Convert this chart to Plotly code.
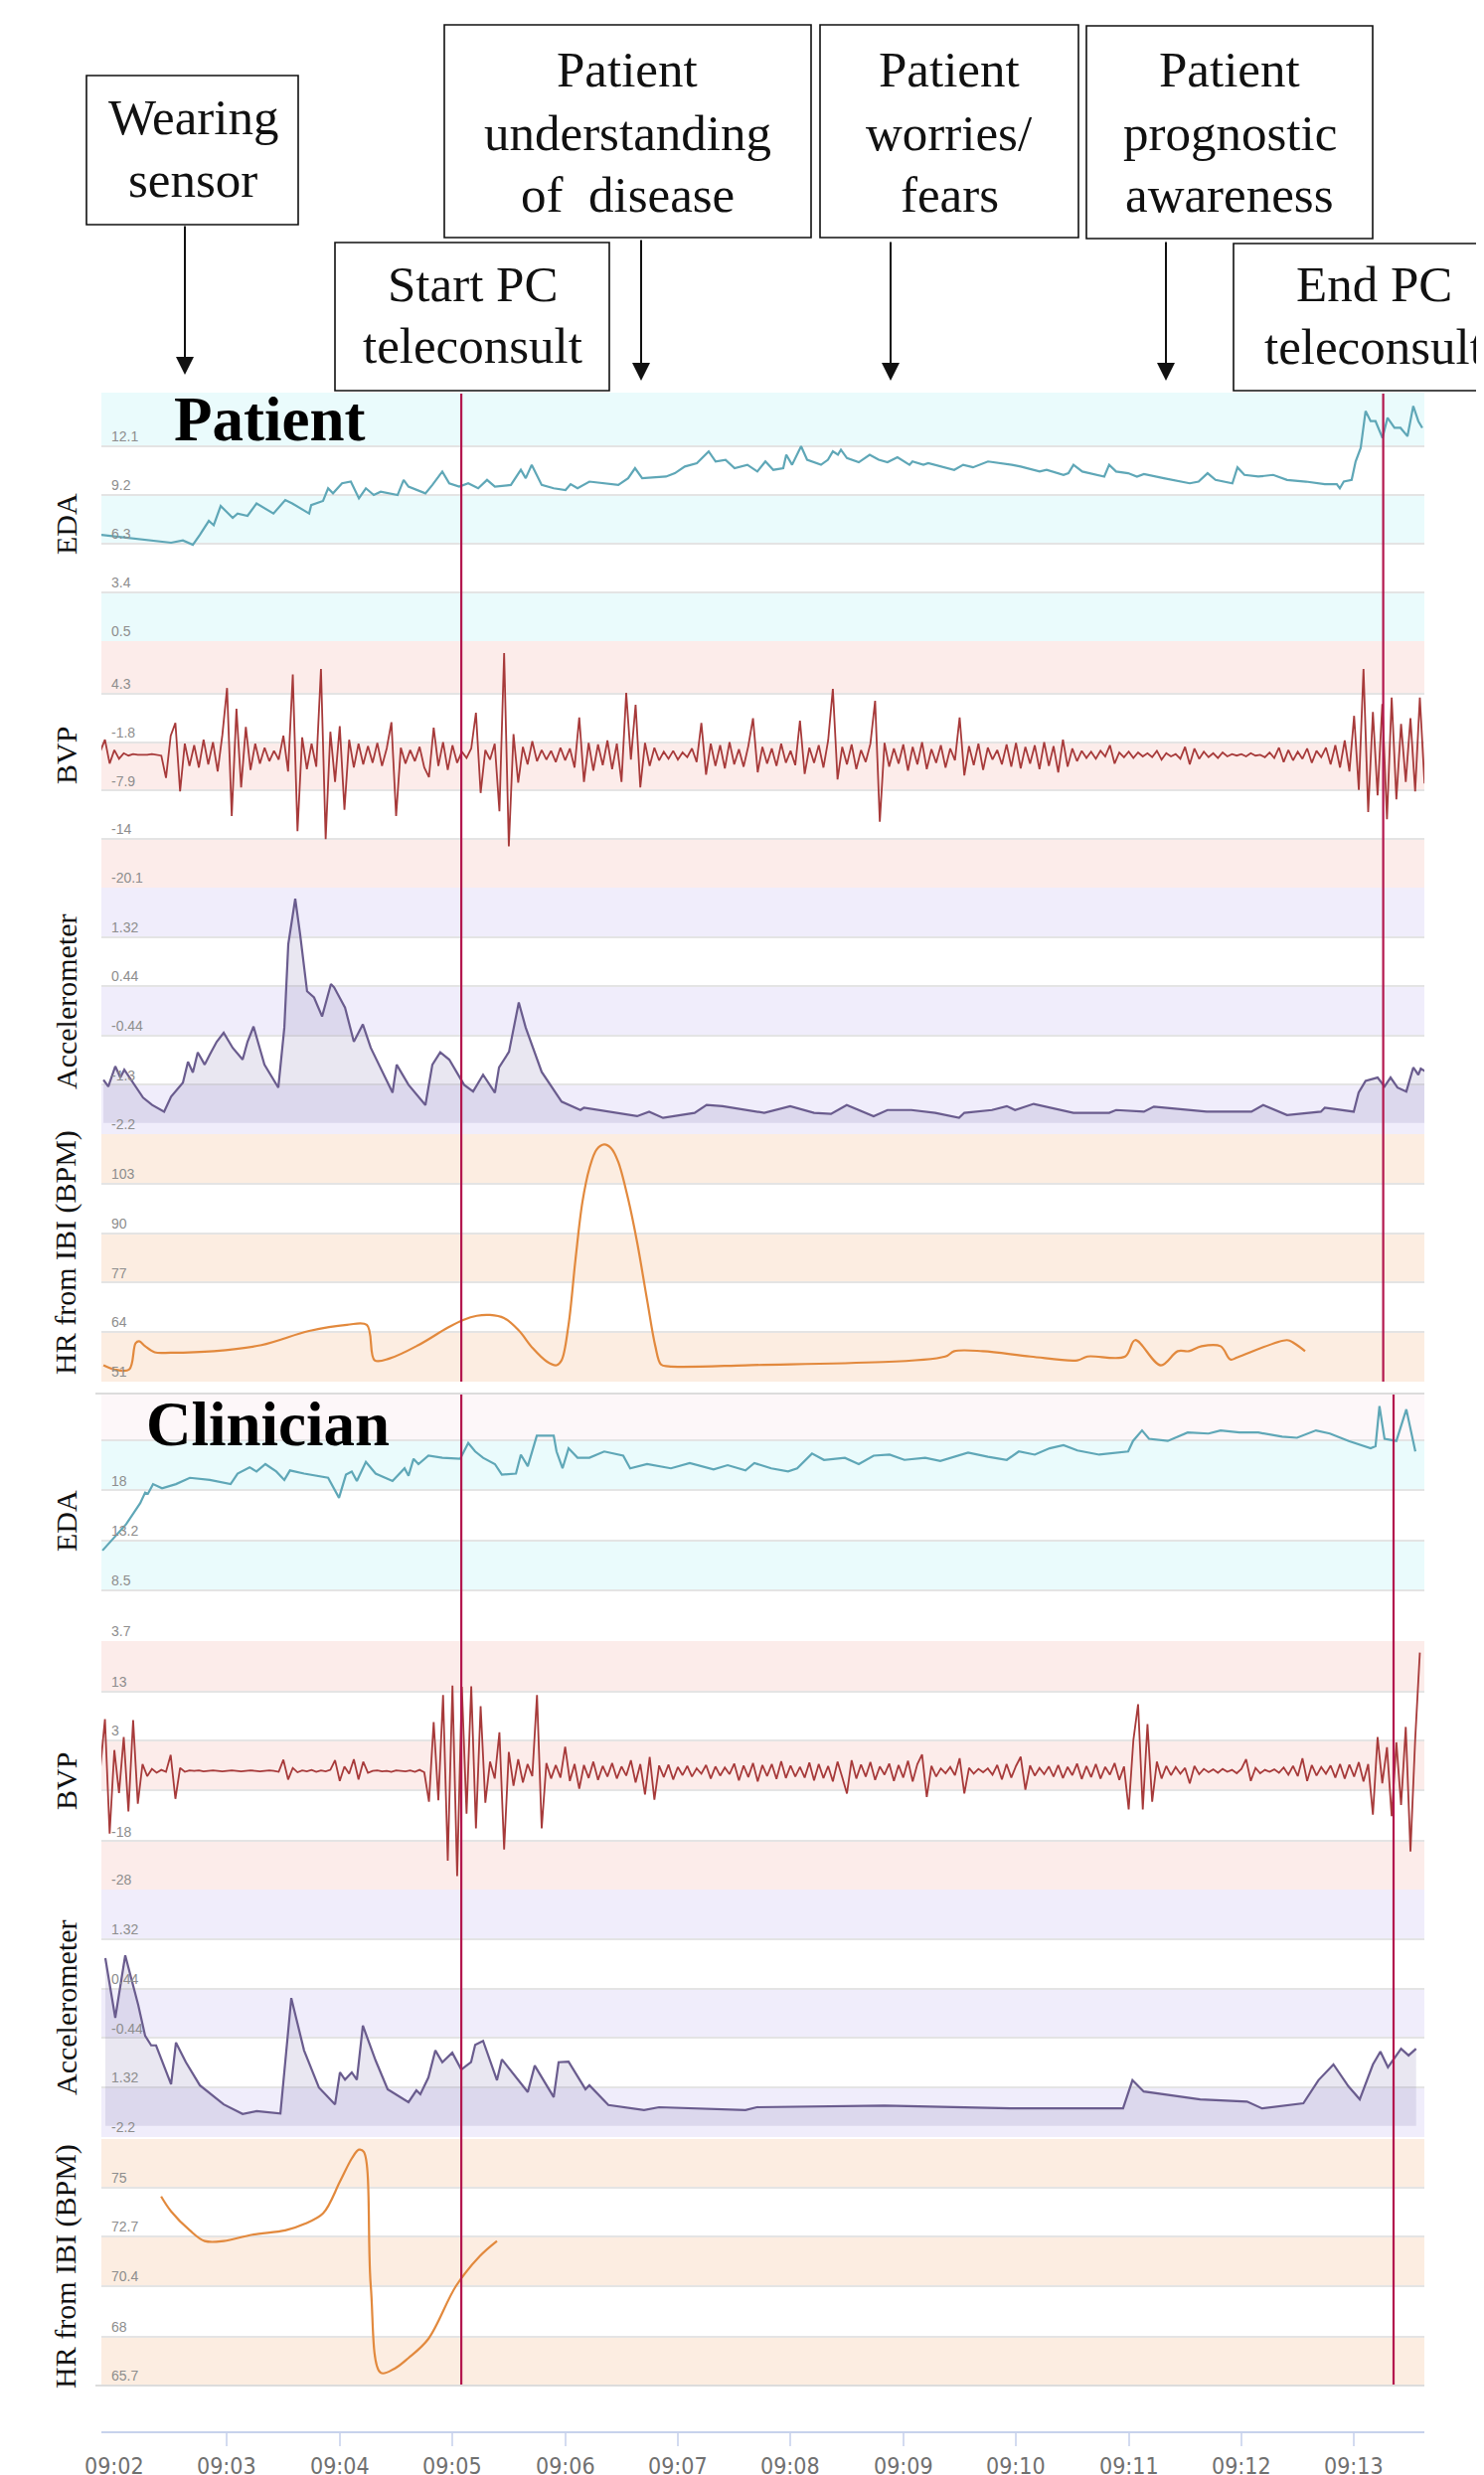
import plotly.graph_objects as go

# ---------------------------------------------------------------- data ----
# time is in seconds after 09:02:00
X_TICK_SECONDS = [0, 60, 120, 180, 240, 300, 360, 420, 480, 540, 600, 660]
X_TICK_LABELS = ["09:02", "09:03", "09:04", "09:05", "09:06", "09:07",
                 "09:08", "09:09", "09:10", "09:11", "09:12", "09:13"]
X_RANGE = [-6.9, 697.4]

START_PC_S = 184.7
END_PC_PATIENT_S = 675.5
END_PC_CLINICIAN_S = 681.0

# --- Patient EDA
PAT_EDA_T = [-6.9, 15.3, 30.2, 36.5, 41.8, 45.5, 50.3, 52.9, 56.6, 63.0, 65.6, 70.9, 75.7, 84.7, 91.0, 94.7,
             103.7, 104.8, 111.1, 113.8, 116.4, 121.2, 125.9, 130.2, 133.9, 138.1, 141.8, 150.8, 154.0, 156.6,
             165.6, 169.3, 174.6, 178.3, 183.6, 188.4, 193.7, 198.4, 202.6, 211.1, 216.4, 219.0, 222.2, 227.5,
             233.9, 240.2, 242.9, 246.6, 252.9, 268.3, 273.5, 277.2, 281.0, 293.7, 298.4, 303.7, 310.1, 316.4,
             320.1, 325.4, 330.2, 337.0, 342.3, 346.6, 350.8, 356.1, 357.7, 360.8, 365.6, 368.8, 376.2, 379.9,
             382.5, 385.2, 386.8, 390.0, 396.3, 402.1, 406.9, 411.6, 416.9, 423.3, 424.9, 430.7, 433.3, 447.1,
             451.9, 457.1, 460.8, 465.1, 477.8, 482.5, 492.6, 496.3, 505.3, 507.9, 510.6, 515.3, 527.0, 529.6,
             533.3, 539.7, 544.4, 548.1, 558.7, 572.5, 577.2, 582.0, 586.2, 595.2, 597.9, 601.6, 609.0, 616.9,
             624.3, 634.4, 644.4, 650.8, 652.4, 654.5, 658.7, 660.8, 663.5, 666.1, 668.8, 671.4, 675.1, 677.8,
             681.5, 684.7, 688.4, 691.5, 694.2, 696.3]
PAT_EDA_V = [6.83, 6.54, 6.36, 6.5, 6.24, 6.83, 7.66, 7.4, 8.55, 7.84, 8.1, 7.96, 8.7, 8.1, 8.9, 8.7,
             8.1, 8.6, 8.85, 9.6, 9.3, 9.9, 10.0, 9.0, 9.6, 9.2, 9.4, 9.2, 10.1, 9.7,
             9.3, 9.8, 10.6, 9.9, 9.7, 9.9, 9.6, 10.1, 9.7, 9.8, 10.7, 10.2, 11.0, 9.8,
             9.6, 9.5, 9.85, 9.6, 10.0, 9.8, 10.2, 10.8, 10.2, 10.3, 10.5, 10.9, 11.1, 11.8,
             11.2, 11.3, 10.8, 11.0, 10.6, 11.2, 10.7, 10.8, 11.6, 11.0, 12.1, 11.3, 11.0, 11.3,
             11.8, 11.6, 11.9, 11.4, 11.15, 11.6, 11.3, 11.15, 11.45, 11.0, 11.2, 11.0, 11.1, 10.7,
             11.0, 10.85, 11.0, 11.2, 11.0, 10.9, 10.6, 10.7, 10.4, 10.5, 11.0, 10.6, 10.3, 11.0,
             10.6, 10.5, 10.3, 10.45, 10.2, 9.9, 10.0, 10.5, 10.1, 9.9, 10.85, 10.4, 10.3, 10.4,
             10.1, 10.0, 9.85, 9.85, 9.6, 10.0, 10.1, 11.2, 12.0, 14.2, 13.6, 13.6, 12.6, 13.8,
             13.2, 13.2, 12.7, 14.5, 13.6, 13.2]

# --- BVP (uniformly sampled, one value every BVP_DT seconds from BVP_T0)
BVP_T0 = -7.5
BVP_DT = 2.5
PAT_BVP_V = [
    -3.0, -1.5, -4.5, -2.8, -3.9, -3.2, -3.5, -3.3, -3.4, -3.4,
    -3.4, -3.3, -3.4, -3.5, -6.3, -1.0, 0.6, -8.0, -2.0, -4.8,
    -2.2, -5.0, -1.5, -4.6, -1.8, -5.5, -0.9, 5.0, -11.1, 2.4,
    -7.5, 0.1, -5.3, -2.0, -4.5, -2.5, -4.2, -2.9, -4.0, -1.0,
    -5.5, 6.7, -13.0, -1.2, -5.2, -2.0, -4.9, 7.4, -14.0, -0.5,
    -6.8, 0.2, -10.3, -1.5, -5.0, -2.0, -4.6, -2.3, -4.4, -1.9,
    -4.8, -2.6, 0.7, -11.1, -2.5, -4.5, -2.8, -4.2, -2.4, -5.0,
    -6.2, 0.0, -4.8, -1.8, -5.3, -2.2, -4.4, -3.0, -3.8, -2.6,
    1.9, -8.2, -2.8, -4.0, -2.0, -10.5, 9.4, -14.9, -0.8, -6.9,
    -2.4, -4.6, -1.7, -4.2, -2.8, -4.0, -2.9, -4.3, -2.5, -4.1,
    -2.6, -5.0, 1.3, -6.8, -1.9, -5.4, -2.1, -4.7, -1.6, -5.2,
    -2.0, -6.8, 4.4, -4.0, 2.9, -7.5, -1.9, -4.8, -2.5, -4.1,
    -3.0, -3.9, -2.9, -4.0, -3.1, -3.7, -2.6, -4.3, 0.6, -5.9,
    -2.0, -4.8, -2.2, -5.1, -1.8, -4.6, -2.7, -4.9, -2.3, 1.2,
    -5.6, -2.4, -4.5, -2.6, -4.8, -2.0, -4.4, -2.9, -4.7, 0.9,
    -5.8, -2.5, -4.4, -2.2, -5.0, -1.6, 4.9, -6.5, -2.4, -4.6,
    -2.1, -5.2, -2.8, -4.3, -2.0, 3.4, -11.8, -1.9, -4.9, -2.6,
    -4.5, -2.1, -5.4, -2.4, -4.6, -1.8, -5.2, -2.7, -4.4, -2.2,
    -5.0, -2.6, -4.1, 1.3, -6.0, -2.3, -4.7, -2.0, -5.3, -2.5,
    -4.0, -2.8, -4.6, -2.1, -4.9, -1.9, -5.1, -2.4, -4.5, -2.2,
    -5.2, -1.8, -4.8, -2.3, -5.6, -1.5, -4.9, -2.6, -4.2, -2.9,
    -3.8, -3.0, -3.9, -2.9, -3.6, -2.2, -4.5, -3.1, -3.7, -3.0,
    -3.8, -3.1, -3.6, -3.2, -3.7, -2.9, -4.0, -3.2, -3.6, -3.3,
    -3.9, -2.4, -4.6, -2.6, -3.9, -3.0, -3.7, -3.2, -3.8, -3.1,
    -3.6, -3.3, -3.5, -3.3, -3.6, -3.2, -3.5, -3.4, -3.7, -3.1,
    -3.8, -2.5, -4.3, -2.8, -4.1, -3.0, -3.9, -2.6, -4.4, -2.9,
    -3.7, -2.5, -4.6, -2.2, -5.0, -1.6, -5.5, 1.5, -7.8, 7.4,
    -10.6, 2.0, -8.5, 3.0, -11.5, 3.8, -9.0, 0.5, -6.8, 1.2, -8.0, 3.8, -7.0]

CLI_BVP_V = [
    -3.0, 7.3, -16.4, 0.9, -8.0, 3.6, -11.8, 7.1, -10.2, -2.0,
    -4.5, -3.0, -3.8, -3.2, -3.6, -0.1, -9.2, -2.8, -3.6, -3.3,
    -3.4, -3.3, -3.5, -3.4, -3.3, -3.4, -3.5, -3.4, -3.3, -3.4,
    -3.5, -3.4, -3.3, -3.4, -3.5, -3.4, -3.3, -3.4, -3.6, -1.1,
    -5.2, -2.8, -3.7, -3.3, -3.5, -3.2, -3.6, -3.3, -3.5, -3.2,
    -1.2, -5.5, -2.5, -4.0, -1.0, -5.2, -1.5, -3.8, -3.4, -3.3,
    -3.5, -3.4, -3.6, -3.3, -3.4, -3.5, -3.3, -3.6, -3.2, -3.7,
    -9.8, 6.7, -9.5, 12.3, -22.0, 14.3, -25.2, 14.0, -12.3, 14.1,
    -15.3, 10.0, -10.0, -1.5, -5.0, 4.6, -19.7, 0.5, -6.5, -1.0,
    -5.8, -2.0, -4.5, 12.3, -15.3, -1.8, -5.0, -2.2, -4.8, 1.6,
    -5.5, -2.0, -7.1, -2.2, -4.9, -1.5, -5.3, -2.4, -4.6, -1.8,
    -5.0, -2.5, -4.4, -1.2, -5.8, -2.0, -8.3, -0.5, -9.4, -2.3,
    -4.7, -2.1, -5.2, -2.6, -4.3, -2.4, -4.6, -2.9, -4.0, -2.2,
    -5.0, -2.5, -4.4, -2.7, -4.1, -1.9, -5.4, -2.3, -4.7, -1.8,
    -5.6, -2.2, -4.5, -2.0, -5.1, -1.4, -4.9, -2.3, -4.6, -2.6,
    -4.8, -1.7, -5.4, -2.0, -4.9, -2.4, -5.6, -1.5, -4.7, -8.1,
    -1.2, -5.0, -2.1, -4.6, -1.6, -5.3, -2.5, -4.2, -1.9, -5.5,
    -2.2, -4.8, -1.3, -5.6, -2.0, 0.0, -8.8, -2.4, -4.6, -2.9,
    -3.9, -2.6, -4.3, -0.8, -8.1, -2.8, -4.0, -3.0, -3.7, -2.9,
    -4.2, -2.2, -5.2, -2.0, -4.8, -2.4, -0.5, -7.3, -2.3, -4.4,
    -2.8, -4.1, -2.5, -4.6, -2.2, -4.9, -2.6, -4.3, -1.9, -5.1,
    -2.4, -4.7, -2.0, -5.0, -2.6, -4.2, -1.8, -5.3, -2.5, -11.4,
    3.0, 10.4, -11.4, 6.3, -9.8, -1.5, -5.0, -2.4, -4.3, -2.6,
    -4.0, -2.8, -6.0, -2.4, -4.1, -3.0, -3.7, -3.1, -3.8, -3.0,
    -3.6, -3.2, -3.9, -3.0, -1.0, -5.5, -2.8, -3.9, -3.2, -3.6,
    -3.1, -3.8, -2.7, -4.2, -2.4, -4.5, -0.8, -5.5, -2.2, -4.4,
    -2.6, -4.0, -2.3, -4.8, -2.0, -5.0, -2.1, -4.6, -1.6, -5.6,
    -2.0, -12.5, 3.6, -6.0, 1.5, -12.8, 2.5, -10.5, 5.7, -20.1, 3.0, 21.1]

# --- Patient accelerometer
PAT_ACC_T = [-5.8, -3.2, 0.5, 3.2, 5.3, 15.3, 20.1, 26.5, 30.2, 36.5, 39.2, 41.8, 44.4, 48.1, 50.8, 54.5,
             58.2, 63.0, 68.3, 70.9, 74.1, 79.9, 87.3, 90.5, 92.6, 96.3, 98.9, 102.6, 106.3, 110.6, 115.3,
             117.0, 122.8, 127.5, 132.3, 136.5, 148.1, 150.3, 156.6, 165.6, 169.3, 173.5, 178.3, 186.2,
             191.0, 196.3, 202.6, 204.8, 210.1, 215.3, 219.0, 227.5, 238.1, 248.1, 250.0, 263.0, 278.3,
             284.7, 292.1, 308.9, 315.3, 323.8, 337.0, 346.0, 359.8, 372.5, 381.5, 389.9, 404.2, 411.6,
             424.3, 437.0, 449.7, 452.5, 467.2, 475.1, 479.5, 489.4, 510.6, 529.6, 533.3, 548.1, 553.4,
             581.5, 605.3, 611.6, 624.3, 642.3, 644.4, 659.8, 662.4, 666.1, 672.5, 676.2, 679.4, 683.1,
             687.8, 691.5, 694.2, 695.5, 698.9]
PAT_ACC_V = [-1.23, -1.35, -0.99, -1.19, -1.05, -1.55, -1.68, -1.80, -1.53, -1.28, -0.91, -1.10, -0.74, -0.96,
             -0.78, -0.55, -0.39, -0.66, -0.87, -0.55, -0.28, -0.96, -1.37, -0.30, 1.19, 2.0, 1.37, 0.35, 0.24,
             -0.10, 0.48, 0.42, 0.06, -0.55, -0.24, -0.66, -1.46, -0.96, -1.32, -1.68, -0.96, -0.74, -0.87,
             -1.32, -1.44, -1.14, -1.46, -1.01, -0.73, 0.15, -0.30, -1.09, -1.62, -1.77, -1.73, -1.80, -1.88,
             -1.80, -1.91, -1.82, -1.68, -1.70, -1.77, -1.82, -1.70, -1.82, -1.84, -1.68, -1.88, -1.77,
             -1.77, -1.82, -1.91, -1.82, -1.77, -1.70, -1.77, -1.66, -1.82, -1.82, -1.77, -1.80, -1.71,
             -1.80, -1.80, -1.68, -1.86, -1.80, -1.73, -1.80, -1.46, -1.25, -1.19, -1.35, -1.19, -1.37,
             -1.44, -1.01, -1.14, -1.03, -1.10]

# --- Patient heart rate
PAT_HR_T = [-5.8, 0, 7.9, 11.3, 13.2, 16.4, 21.5, 30, 52.9, 78.3, 103.7, 123.8, 134.4, 138.6, 146.6, 161.9,
            177.2, 185.7, 193, 200, 207.4, 215.2, 222.7, 230.2, 235.4, 238.1, 241.7, 245.5, 249.2, 252.9,
            256.8, 260.8, 264.5, 268.2, 273.5, 278.3, 283.6, 288, 291, 295, 336, 442.3, 447.1, 462.4,
            487.8, 512.7, 518, 538.1, 543.4, 557.1, 566.1, 572, 578.8, 588.9, 594.2, 598, 624.3, 628.0, 633.9]
PAT_HR_V = [55.3, 54.2, 54.2, 61.1, 61.6, 60.3, 58.7, 58.6, 59.0, 60.6, 64.3, 65.9, 65.9, 56.6, 57.1, 60.6,
            65.1, 67.2, 68.3, 68.5, 67.7, 64.5, 59.8, 56.3, 55.3, 56.6, 65.6, 83.1, 98.2, 107.0,
            112.0, 113.3, 112.3, 108.8, 99.0, 87.6, 72.5, 60.3, 55.5, 55.0, 55.3, 57.6, 59.0, 59.0,
            57.6, 56.6, 57.6, 57.6, 61.9, 55.3, 59.0, 59.0, 60.3, 60.3, 56.8, 57.4, 61.9, 61.1, 59.0]

# --- Clinician EDA
CLI_EDA_T = [-6.3, 0, 6.3, 13.8, 16.4, 17.9, 20.6, 25.4, 32.8, 40.2, 50.8, 61.9, 65.6, 72.0, 75.7, 80.4,
             86.2, 90.5, 93.5, 101, 113.8, 119.6, 123.3, 126.4, 129.1, 133.9, 139.1, 148.1, 154.5, 156.6,
             159.3, 161.9, 167.2, 174.6, 184.1, 188.4, 192.1, 196.3, 202.6, 206.3, 213.8, 216.4, 220.1,
             224.9, 233.9, 235.4, 238.6, 241.8, 246.6, 252.9, 260.8, 270.9, 274.6, 283.6, 296.3, 306.3,
             319, 326.5, 336, 340.7, 349.7, 358.7, 363.5, 371.4, 377.8, 388.9, 396.3, 404.2, 412.7, 420.6,
             431.7, 439.7, 454.5, 465.1, 475.1, 481.5, 490, 497.9, 505.3, 512.7, 524.3, 539.7, 542.3,
             547.1, 550.8, 560.8, 571.4, 582.5, 588.9, 599, 609, 621.7, 629.6, 639.7, 647.1, 657.1, 668.8,
             671.4, 673.5, 676.2, 682.5, 687.8, 692.6]
CLI_EDA_V = [12.3, 13.5, 14.8, 16.8, 17.8, 17.7, 18.6, 18.2, 18.6, 19.2, 19.0, 18.6, 19.6, 20.2, 19.8, 20.5,
             19.8, 19.0, 19.9, 19.6, 19.2, 17.3, 19.5, 19.8, 18.9, 20.7, 19.6, 18.9, 20.1, 19.4,
             21.0, 20.5, 21.3, 21.1, 21.0, 22.5, 21.7, 21.1, 20.5, 19.5, 19.6, 21.4, 20.3,
             23.2, 23.2, 21.7, 20.1, 22.0, 21.1, 21.1, 21.7, 21.3, 20.1, 20.5, 20.1, 20.6,
             20.0, 20.4, 19.9, 20.6, 20.1, 19.8, 20.1, 21.5, 20.9, 21.1, 20.5, 21.3, 21.4, 20.9,
             21.1, 20.8, 21.6, 21.2, 20.9, 21.7, 21.4, 22.0, 22.3, 21.8, 21.4, 21.7, 22.7,
             23.7, 22.9, 22.7, 23.5, 23.4, 23.7, 23.5, 23.5, 23.1, 23.0, 23.7, 23.4, 22.7, 22.0,
             22.2, 26.0, 22.9, 22.7, 25.7, 21.7]

# --- Clinician accelerometer
CLI_ACC_T = [-4.8, 0.5, 5.8, 12.7, 16.4, 19.6, 22.2, 30.2, 32.8, 38.1, 45.5, 58.2, 68.3, 75.7, 88.4, 94.2,
             101, 108.9, 117.5, 120.1, 122.8, 126.4, 129.1, 132.3, 139.1, 145.5, 156.6, 160.8, 162.9,
             167.2, 170.9, 174.6, 179.9, 184.7, 189.9, 192.1, 196.3, 203.7, 206.3, 220.1, 223.8, 233.9,
             236.5, 241.8, 250.8, 252.9, 263.0, 282, 290, 336, 342, 410, 477, 527, 537, 542, 548, 578,
             603, 611, 633, 641, 649, 657, 663, 670, 674, 678, 685, 689, 693]
CLI_ACC_V = [0.98, -0.08, 1.03, 0.15, -0.40, -0.57, -0.57, -1.26, -0.52, -0.87, -1.28, -1.62, -1.79, -1.74,
             -1.78, 0.27, -0.66, -1.32, -1.62, -1.05, -1.18, -1.05, -1.18, -0.22, -0.84, -1.35, -1.58,
             -1.37, -1.44, -1.14, -0.66, -0.87, -0.70, -1.00, -0.87, -0.56, -0.49, -1.19, -0.82, -1.40,
             -0.93, -1.49, -0.87, -0.86, -1.35, -1.28, -1.63, -1.72, -1.67, -1.72, -1.67, -1.64, -1.69,
             -1.69, -1.69, -1.19, -1.39, -1.53, -1.57, -1.69, -1.60, -1.19, -0.91, -1.30, -1.53, -0.91,
             -0.68, -0.96, -0.63, -0.75, -0.63]

# --- Clinician heart rate
CLI_HR_T = [24.9, 30.2, 40.2, 48.1, 58.2, 73.5, 91, 101, 111.1, 120.1, 126.5, 130.2, 132.8, 136.5, 141.8,
            149.2, 156.6, 167.2, 182, 194.7, 203.7]
CLI_HR_V = [74.6, 73.9, 73.0, 72.5, 72.5, 72.8, 73.0, 73.3, 73.8, 75.3, 76.4, 76.8, 76.7, 70.4, 66.3,
            66.5, 67.0, 67.9, 70.4, 71.8, 72.5]

ACC_FILL_FLOOR = -2.0

# axis ticks / labels per panel
PAT_EDA_TICKS = [0.5, 3.4, 6.3, 9.2, 12.1]
PAT_EDA_LABELS = ["0.5", "3.4", "6.3", "9.2", "12.1"]
PAT_BVP_TICKS = [-20.1, -14, -7.9, -1.8, 4.3]
PAT_BVP_LABELS = ["-20.1", "-14", "-7.9", "-1.8", "4.3"]
ACC_TICKS = [-2.2, -1.32, -0.44, 0.44, 1.32]
PAT_ACC_LABELS = ["-2.2", "-1.3", "-0.44", "0.44", "1.32"]
CLI_ACC_LABELS = ["-2.2", "1.32", "-0.44", "0.44", "1.32"]
PAT_HR_TICKS = [51, 64, 77, 90, 103]
PAT_HR_LABELS = ["51", "64", "77", "90", "103"]
CLI_EDA_TICKS = [3.7, 8.5, 13.2, 18, 22.8]
CLI_EDA_LABELS = ["3.7", "8.5", "13.2", "18", ""]
CLI_BVP_TICKS = [-28, -18, -7.5, 3, 13]
CLI_BVP_LABELS = ["-28", "-18", "", "3", "13"]
CLI_HR_TICKS = [65.7, 68, 70.4, 72.7, 75]
CLI_HR_LABELS = ["65.7", "68", "70.4", "72.7", "75"]

# ---------------------------------------------------------------- style ---
W, H = 1493, 2490
OFF = 8  # page body margin of the browser

def py(p):
    return 1 - (p - OFF) / H

def px(p):
    return (p - OFF) / W

EDA_C = "#5fa7b7"
BVP_C = "#a73a3a"
ACC_C = "#6a5c8e"
HR_C = "#e2893d"
EVENT_C = "#b3174e"
CYAN, PINK, PURPLE, ORANGE = "#eafbfc", "#fcecea", "#f0edfb", "#fcede1"
WHITE, PINKWHITE = "#ffffff", "#fdf7f9"

SERIF = "Liberation Serif, Times New Roman, serif"
TICKFONT = dict(family="Liberation Sans, Arial, sans-serif", size=14, color="#8d8d8d")
XTICKFONT = dict(family="Liberation Sans Narrow, DejaVu Sans Condensed, Arial Narrow, sans-serif",
                 size=23, color="#707070")

PANELS = [
    dict(ax="y",  top=395,  bot=645,  rng=[0.5, 15.3],   ticks=PAT_EDA_TICKS, labels=PAT_EDA_LABELS,
         bands=[CYAN, WHITE, CYAN, WHITE, CYAN], title="EDA", ty=527),
    dict(ax="y2", top=645,  bot=893,  rng=[-20.1, 10.9], ticks=PAT_BVP_TICKS, labels=PAT_BVP_LABELS,
         bands=[PINK, WHITE, PINK, WHITE, PINK], title="BVP", ty=760),
    dict(ax="y3", top=893,  bot=1141, rng=[-2.2, 2.2],   ticks=ACC_TICKS, labels=PAT_ACC_LABELS,
         bands=[PURPLE, WHITE, PURPLE, WHITE, PURPLE], title="Accelerometer", ty=1008),
    dict(ax="y4", top=1141, bot=1390, rng=[51, 116],     ticks=PAT_HR_TICKS, labels=PAT_HR_LABELS,
         bands=[ORANGE, WHITE, ORANGE, WHITE, ORANGE], title="HR from IBI (BPM)", ty=1260),
    dict(ax="y5", top=1402, bot=1651, rng=[3.7, 27.2],   ticks=CLI_EDA_TICKS, labels=CLI_EDA_LABELS,
         bands=[WHITE, CYAN, WHITE, CYAN, PINKWHITE], title="EDA", ty=1530),
    dict(ax="y6", top=1651, bot=1901, rng=[-28, 23.5],   ticks=CLI_BVP_TICKS, labels=CLI_BVP_LABELS,
         bands=[PINK, WHITE, PINK, WHITE, PINK], title="BVP", ty=1792),
    dict(ax="y7", top=1901, bot=2150, rng=[-2.2, 2.2],   ticks=ACC_TICKS, labels=CLI_ACC_LABELS,
         bands=[PURPLE, WHITE, PURPLE, WHITE, PURPLE], title="Accelerometer", ty=2020),
    dict(ax="y8", top=2152, bot=2400, rng=[65.7, 77.3],  ticks=CLI_HR_TICKS, labels=CLI_HR_LABELS,
         bands=[ORANGE, WHITE, ORANGE, WHITE, ORANGE], title="HR from IBI (BPM)", ty=2280),
]

fig = go.Figure()

def line(x, y, ax, color, width, shape="linear", **kw):
    fig.add_trace(go.Scatter(x=x, y=y, xaxis="x", yaxis=ax, mode="lines",
                             line=dict(color=color, width=width, shape=shape),
                             hoverinfo="skip", showlegend=False, **kw))

pat_bvp_t = [BVP_T0 + i * BVP_DT for i in range(len(PAT_BVP_V))]
cli_bvp_t = [BVP_T0 + i * BVP_DT for i in range(len(CLI_BVP_V))]

line(PAT_EDA_T, PAT_EDA_V, "y", EDA_C, 2.2)
line(pat_bvp_t, PAT_BVP_V, "y2", BVP_C, 1.8)
line(PAT_ACC_T, [ACC_FILL_FLOOR] * len(PAT_ACC_T), "y3", "rgba(0,0,0,0)", 0)
line(PAT_ACC_T, PAT_ACC_V, "y3", ACC_C, 2.2, fill="tonexty", fillcolor="rgba(120,105,170,0.16)")
line(PAT_HR_T, PAT_HR_V, "y4", HR_C, 2.2, shape="spline")
line(CLI_EDA_T, CLI_EDA_V, "y5", EDA_C, 2.2)
line(cli_bvp_t, CLI_BVP_V, "y6", BVP_C, 1.8)
line(CLI_ACC_T, [ACC_FILL_FLOOR] * len(CLI_ACC_T), "y7", "rgba(0,0,0,0)", 0)
line(CLI_ACC_T, CLI_ACC_V, "y7", ACC_C, 2.2, fill="tonexty", fillcolor="rgba(120,105,170,0.16)")
line(CLI_HR_T, CLI_HR_V, "y8", HR_C, 2.2, shape="spline")

shapes = []
annotations = []
layout = {}

for p in PANELS:
    key = "yaxis" if p["ax"] == "y" else "yaxis" + p["ax"][1:]
    layout[key] = dict(
        domain=[py(p["bot"]), py(p["top"])], range=p["rng"], anchor="x", automargin=False,
        tickvals=p["ticks"], ticktext=p["labels"], ticks="", showline=False, zeroline=False,
        showgrid=True, gridcolor="#e4e4e4", gridwidth=1.5,
        ticklabelposition="inside top", ticklabelstandoff=7, tickfont=TICKFONT, fixedrange=True)
    bounds = [p["rng"][0]] + p["ticks"][1:] + [p["rng"][1]]
    for i in range(len(bounds) - 1):
        shapes.append(dict(type="rect", xref="x domain", yref=p["ax"], x0=0, x1=1,
                           y0=bounds[i], y1=bounds[i + 1], fillcolor=p["bands"][i],
                           line=dict(width=0), layer="below"))
    annotations.append(dict(text=p["title"], x=px(66), y=py(p["ty"]), xref="paper", yref="paper",
                            textangle=-90, showarrow=False, xanchor="center", yanchor="middle",
                            font=dict(family=SERIF, size=30, color="#111111")))

# time-axis labels, placed on the shared x scale
for s, lab in zip(X_TICK_SECONDS, X_TICK_LABELS):
    annotations.append(dict(text=lab, x=s, xref="x", y=py(2466), yref="paper", showarrow=False,
                            xanchor="center", yanchor="top", font=XTICKFONT))

# event lines
for s, top, bot in [(START_PC_S, 396, 1390), (END_PC_PATIENT_S, 396, 1390),
                    (START_PC_S, 1402, 2400), (END_PC_CLINICIAN_S, 1402, 2400)]:
    shapes.append(dict(type="line", xref="x", yref="paper", x0=s, x1=s, y0=py(bot), y1=py(top),
                       line=dict(color=EVENT_C, width=2.2), layer="above"))

# section separators
for yy in (1402, 2400):
    shapes.append(dict(type="line", xref="paper", yref="paper", x0=px(96), x1=px(1433),
                       y0=py(yy), y1=py(yy), line=dict(color="#dcdcdc", width=2)))

# annotation boxes (x0, y0, x1, y1) in pixels, text lines with centre y, arrow (x, tail, tip)
BOXES = [
    dict(box=(87, 76, 300, 226), cx=194, lines=[("Wearing", 118), ("sensor", 181)], arrow=(186, 226, 377)),
    dict(box=(447, 25, 816, 239), cx=631, lines=[("Patient", 70), ("understanding", 134), ("of  disease", 196)],
         arrow=(645, 240, 383)),
    dict(box=(337, 244, 613, 393), cx=475, lines=[("Start PC", 286), ("teleconsult", 348)], arrow=None),
    dict(box=(825, 25, 1085, 239), cx=955, lines=[("Patient", 70), ("worries/", 134), ("fears", 196)],
         arrow=(896, 242, 383)),
    dict(box=(1093, 26, 1381, 240), cx=1237, lines=[("Patient", 70), ("prognostic", 134), ("awareness", 196)],
         arrow=(1173, 242, 383)),
    dict(box=(1241, 245, 1530, 393), cx=1382, lines=[("End PC", 286), ("teleconsult", 349)], arrow=None),
]
for b in BOXES:
    x0, y0, x1, y1 = b["box"]
    shapes.append(dict(type="rect", xref="paper", yref="paper", x0=px(x0), x1=px(x1), y0=py(y1), y1=py(y0),
                       line=dict(color="#111111", width=1.6), fillcolor="rgba(255,255,255,0)"))
    for txt, cy in b["lines"]:
        annotations.append(dict(text=txt, x=px(b["cx"]), y=py(cy), xref="paper", yref="paper",
                                showarrow=False, xanchor="center", yanchor="middle",
                                font=dict(family=SERIF, size=51, color="#111111")))
    if b["arrow"]:
        ax_, tail, tip = b["arrow"]
        annotations.append(dict(text="", x=px(ax_), y=py(tip), xref="paper", yref="paper",
                                showarrow=True, ax=0, ay=-(tip - tail), arrowhead=2, arrowsize=1.8,
                                arrowwidth=2, arrowcolor="#111111"))

for txt, cx, cy in [("Patient", 271, 422), ("Clinician", 269, 1433)]:
    annotations.append(dict(text="<b>" + txt + "</b>", x=px(cx), y=py(cy), xref="paper", yref="paper",
                            showarrow=False, xanchor="center", yanchor="middle",
                            font=dict(family=SERIF, size=63, color="#000000")))

fig.update_layout(
    width=W, height=H, autosize=False,
    margin=dict(l=0, r=0, t=0, b=0, pad=0),
    paper_bgcolor="white", plot_bgcolor="white",
    showlegend=False,
    xaxis=dict(domain=[px(102), px(1433)], range=X_RANGE, anchor="free", position=py(2447),
               automargin=False, showticklabels=False,
               tickvals=X_TICK_SECONDS, showgrid=False, zeroline=False,
               showline=True, linecolor="#c7d2ec", linewidth=2, ticks="outside", ticklen=13,
               tickcolor="#d3dbf0", tickwidth=1.5, fixedrange=True),
    shapes=shapes, annotations=annotations, **layout)

fig.write_html("out.html")
